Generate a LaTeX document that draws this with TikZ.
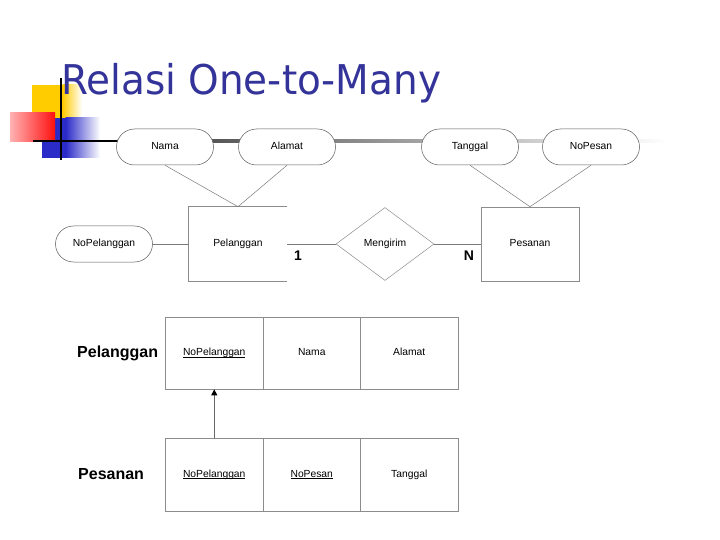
\documentclass[tikz,border=0pt]{standalone}
\usepackage{fontspec}
\setmainfont{Liberation Sans}
\newfontfamily\titlefont{DejaVu Sans}
\usetikzlibrary{shapes.geometric,shapes.misc,arrows.meta}
\definecolor{titleblue}{HTML}{333399}
\definecolor{decoyellow}{HTML}{FFCC00}
\definecolor{decoblue}{HTML}{2B2BC8}
\definecolor{decored}{HTML}{FF1010}
\definecolor{edgegray}{HTML}{8C8C8C}
\definecolor{linegray}{HTML}{7A7A7A}
\newcommand\myul[1]{\setbox0\hbox{#1}\rlap{\rule[-1.6pt]{\wd0}{0.5pt}}\box0}
\tikzset{
  txt/.style={font=\fontsize{10.3}{12}\selectfont, text height=7.6pt, text depth=2.2pt},
  attrbox/.style={txt, shape=rounded rectangle, draw=black!65, line width=0.5pt, fill=white,
    minimum width=97pt, minimum height=36pt, inner sep=0pt},
  entbox/.style={txt, draw=edgegray, line width=0.6pt, minimum width=98pt, minimum height=74pt, inner sep=0pt},
  relbox/.style={txt, shape=diamond, draw=edgegray, line width=0.5pt, minimum width=98pt, minimum height=73pt,
    inner sep=0pt},
  conn/.style={draw=linegray, line width=0.5pt},
  card/.style={font=\fontsize{14}{16}\selectfont\bfseries, inner sep=0pt},
  cell/.style={txt, draw=edgegray, line width=0.7pt, minimum width=97.5pt, inner sep=0pt},
  tlabel/.style={font=\fontsize{16}{18}\selectfont\bfseries, inner sep=0pt, anchor=west},
}
\begin{document}
\begin{tikzpicture}[x=1pt,y=-1pt]
\useasboundingbox (0,0) rectangle (720,540);
% template decoration
\fill[decoyellow] (32,85) rectangle (63,119);
\shade[left color=decoyellow, right color=white] (62.5,85) rectangle (82,119);
\fill[decoblue] (42,118) rectangle (66,158);
\shade[left color=decoblue, right color=white] (65.5,118) rectangle (100,158);
\shade[left color=red!30, right color=decored] (10,113) rectangle (55,142);
\fill[black] (33,140) rectangle (118,142.2);
\shade[left color=black!80, right color=white] (117.5,140) rectangle (668,142.2);
\fill[black] (60,78) rectangle (62.2,160);
% title
\node[anchor=base west, inner sep=0pt, text=titleblue] (title) at (61,95)
  {\titlefont\fontsize{41}{46}\selectfont\scalebox{0.95}[1]{Relasi One-to-Many}};
% ER diagram
\node[attrbox] (nama) at (165,147) {Nama};
\node[attrbox] (alamat) at (287,147) {Alamat};
\node[attrbox] (tanggal) at (470,147) {Tanggal};
\node[attrbox] (nopesan) at (591,147) {NoPesan};
\node[attrbox] (nopel) at (104,244) {NoPelanggan};
\node[entbox, draw=none] (pel) at (238,244) {Pelanggan};
\draw[draw=edgegray, line width=0.6pt] (pel.north east) -- (pel.north west) -- (pel.south west) -- (pel.south east);
\node[relbox] (rel) at (385,244) {Mengirim};
\node[entbox] (pes) at (530,244) {Pesanan};
\draw[conn] (nopel.east) -- (pel.west);
\draw[conn] (pel.east) -- (rel.west);
\draw[conn] (rel.east) -- (pes.west);
\draw[conn] (nama.south) -- (pel.north);
\draw[conn] (alamat.south) -- (pel.north);
\draw[conn] (tanggal.south) -- (pes.north);
\draw[conn] (nopesan.south) -- (pes.north);
\node[card] (one) at (298,256) {1};
\node[card] (many) at (469,256) {N};
% relational tables
\node[tlabel] (tpel) at (77,353) {Pelanggan};
\node[cell, minimum height=72pt] (a1) at (214.25,353) {\myul{NoPelanggan}};
\node[cell, minimum height=72pt] (a2) at (311.75,353) {Nama};
\node[cell, minimum height=72pt] (a3) at (409.25,353) {Alamat};
\node[tlabel] (tpes) at (78,474.5) {Pesanan};
\node[cell, minimum height=73pt] (b1) at (214.25,474.5) {\myul{NoPelanggan}};
\node[cell, minimum height=73pt] (b2) at (311.75,474.5) {\myul{NoPesan}};
\node[cell, minimum height=73pt] (b3) at (409.25,474.5) {Tanggal};
\draw[draw=black!60, line width=0.9pt, -{Triangle[length=6pt,width=6pt,color=black]}] (b1.north) -- (a1.south);
\end{tikzpicture}
\end{document}
